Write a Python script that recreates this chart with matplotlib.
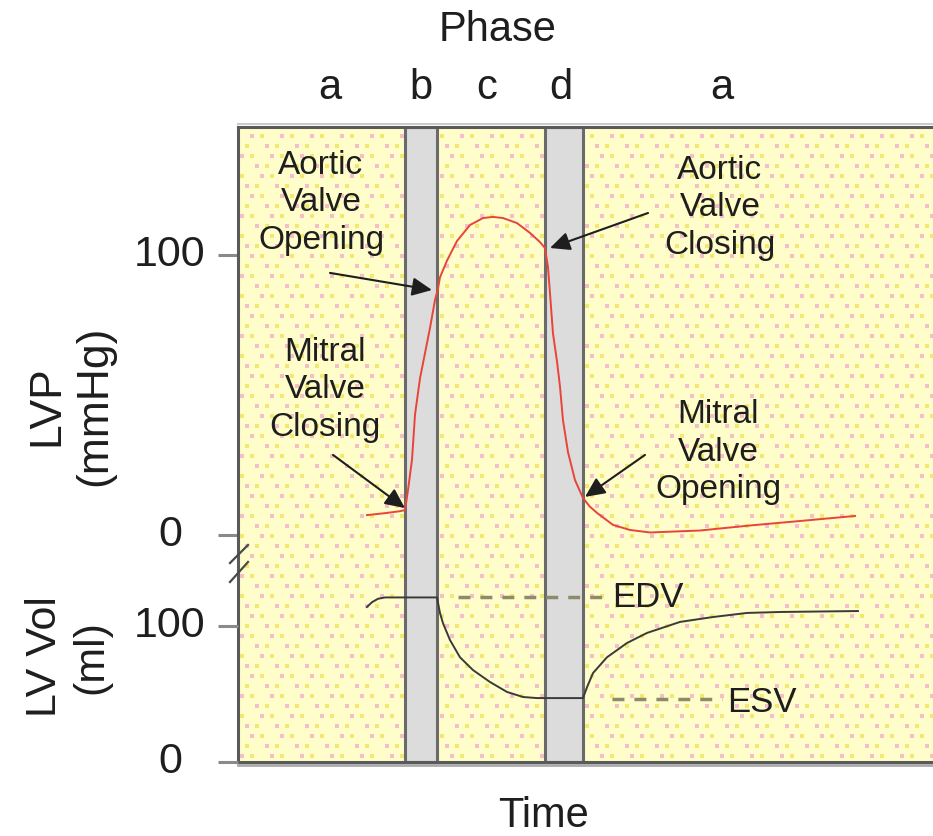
import numpy as np
import matplotlib
matplotlib.use("Agg")
import matplotlib.pyplot as plt
from matplotlib import transforms
from matplotlib.lines import Line2D

plt.rcParams["font.family"] = ["Liberation Sans", "DejaVu Sans"]
plt.rcParams["lines.scale_dashes"] = False

# ---- data (time in percent of the displayed window) ----
lvp_time = [18.56, 21.15, 23.31, 24.03, 24.46, 25.04, 25.47, 26.19, 27.63, 28.35,
            28.78, 29.06, 30.07, 31.51, 33.38, 35.25, 36.69, 38.13, 40.14, 42.01,
            43.45, 44.17, 44.60, 44.89, 45.32, 45.90, 46.33, 46.76, 47.48, 48.49,
            49.64, 50.60, 51.65, 53.96, 56.40, 59.28, 66.47, 73.67, 80.86, 88.78]
lvp_mmhg = [7.1, 7.8, 8.5, 8.9, 16, 27, 43, 56, 74, 84,
            88, 92, 98, 105, 110.7, 113.2, 113.6, 113.2, 111.4, 107.9,
            104.6, 102.5, 95.7, 86.4, 72, 62, 53, 41, 29.6, 19.6,
            13.2, 10.2, 7.9, 3.6, 1.8, 0.9, 1.6, 3.4, 5.0, 6.8]

vol_time = [18.56, 19.28, 20.14, 21.15, 28.63, 29.06, 29.50, 30.50, 31.94, 33.81,
            36.26, 38.71, 41.01, 43.02, 49.64, 50.22, 51.08, 53.09, 55.97, 58.85,
            63.60, 68.35, 73.24, 78.0, 89.2]
vol_ml = [114, 117.5, 120, 121, 121, 109.6, 102, 89.7, 77, 67.6,
          58.8, 51.5, 47.8, 47, 47, 55, 65.4, 77, 87.5, 94.9,
          103, 106.6, 109.6, 110.3, 111]

# isovolumetric phases (b and d)
phase_bands = [(24.03, 28.63), (44.17, 49.64)]
phase_names = ["a", "b", "c", "d", "a"]
phase_pos = [13.24, 26.33, 35.83, 46.47, 69.64]

edv = 121
esv = 46
lvp_ticks = [0, 100]
vol_ticks = [0, 100]

# valve events: (label, text position, arrow tail, arrow head) in (time, mmHg)
events = [
    ("Aortic\nValve\nOpening", (11.94, 118.6), (13.24, 93.6), (27.91, 87.5)),
    ("Mitral\nValve\nClosing", (12.5, 51.8), (13.67, 28.6), (24.03, 9.6)),
    ("Aortic\nValve\nClosing", (69.35, 116.8), (59.0, 115.0), (44.89, 102.5)),
    ("Mitral\nValve\nOpening", (69.06, 29.6), (58.56, 28.6), (49.93, 13.6)),
]

# ---- figure ----
W, H = 933, 836
fig = plt.figure(figsize=(W / 100, H / 100), dpi=100)


def fx(px):
    return px / W


def fy(py):
    return 1 - py / H


ax = fig.add_axes([fx(238), fy(762), fx(933 - 238), (762 - 127) / H])
ax.set_xlim(0, 100)
ax.set_ylim(-81.07, 145.71)
ax.set_facecolor("#FFFDC9")

ax_v = fig.add_axes(ax.get_position(), sharex=ax)
ax_v.set_ylim(0, 466.9)
ax_v.patch.set_visible(False)

frame_col = "#5A5A5A"
for name, sp in ax.spines.items():
    sp.set_color(frame_col)
    sp.set_linewidth(2.2)
ax.spines["right"].set_visible(False)
for sp in ax_v.spines.values():
    sp.set_visible(False)

for a, ticks in ((ax, lvp_ticks), (ax_v, vol_ticks)):
    a.set_xticks([])
    a.set_yticks(ticks)
    a.set_yticklabels([])
    a.tick_params(axis="y", length=14.4, width=2.2, color="#8A8A8A", direction="out")
    for v in ticks:
        a.text(-0.0978, v, str(v), transform=a.get_yaxis_transform(),
               ha="center", va="center", fontsize=31, color="#1E1E1E")

# stippled panel background
gx = np.arange(4, 695, 10.0)
gy = np.arange(6, 630, 10.0)
GX, GY = np.meshgrid(gx, gy)
row = (GY // 10).astype(int)
GX = GX + (row % 2) * 5
col = ((GX // 10).astype(int) + row) % 3
pink = col == 0
yel = col == 1
for mask, c in ((pink, "#F6BFC8"), (yel, "#F2EA70")):
    ax.scatter(GX[mask] / 695, GY[mask] / 635, s=5.5, marker="s", color=c,
               linewidths=0, transform=ax.transAxes, zorder=0.5)

# isovolumetric bands
for x0, x1 in phase_bands:
    ax.axvspan(x0, x1, facecolor="#DCDCDC", edgecolor="#6A6A6A", lw=2.2, zorder=1)

# curves
ax.plot(lvp_time, lvp_mmhg, color="#E8443A", lw=1.4, zorder=4)
ax_v.plot(vol_time, vol_ml, color="#3A3A3A", lw=1.4, zorder=4)

# EDV / ESV reference lines
dash = (0, (8.6, 7.2))
ax_v.hlines(edv, 31.65, 52.5, colors="#8E8B6C", linestyles=dash, lw=2.5, zorder=3)
ax_v.hlines(esv, 53.8, 69.6, colors="#8E8B6C", linestyles=dash, lw=2.5, zorder=3)
ax_v.text(53.8, edv, "EDV", ha="left", va="center", fontsize=25, color="#1E1E1E")
ax_v.text(70.36, esv - 2.5, "ESV", ha="left", va="center", fontsize=25, color="#1E1E1E")

# valve events
for label, tpos, tail, head in events:
    ax.text(*tpos, label, ha="center", va="center", fontsize=24,
            linespacing=1.27, color="#1E1E1E", zorder=6)
    ax.annotate("", xy=head, xytext=tail,
                arrowprops=dict(arrowstyle="-|>,head_length=0.6,head_width=0.28",
                                mutation_scale=20, lw=1.5, color="#1E1E1E",
                                shrinkA=0, shrinkB=0), zorder=6)

# phase labels along the top
top = transforms.blended_transform_factory(ax.transData, fig.transFigure)
for name, x in zip(phase_names, phase_pos):
    ax.text(x, fy(88), name, transform=top, ha="center", va="center",
            fontsize=30, color="#1E1E1E")
ax.text(37.4, fy(30), "Phase", transform=top, ha="center", va="center",
        fontsize=30, color="#1E1E1E")
ax.text(43.9, fy(816), "Time", transform=top, ha="center", va="center",
        fontsize=30, color="#1E1E1E")

# axis titles
fig.text(fx(71), fy(406), "LVP\n(mmHg)", rotation=90, ha="center", va="center",
         fontsize=32, linespacing=1.2, color="#1E1E1E")
fig.text(fx(68), fy(657), "LV Vol\n(ml)", rotation=90, ha="center", va="center",
         fontsize=31, linespacing=1.2, color="#1E1E1E")

# axis break marks and frame shadow
for (x0, y0, x1, y1) in ((230, 563, 248, 545), (230, 582, 248, 562)):
    fig.add_artist(Line2D([fx(x0), fx(x1)], [fy(y0), fy(y1)], color="#4A4A4A", lw=1.6))
fig.add_artist(Line2D([fx(238), 1], [fy(765), fy(765)], color="#AAAAAA", lw=2))
fig.add_artist(Line2D([fx(238), 1], [fy(124), fy(124)], color="#CCCCCC", lw=1.5))

fig.savefig("out.png", dpi=100)
